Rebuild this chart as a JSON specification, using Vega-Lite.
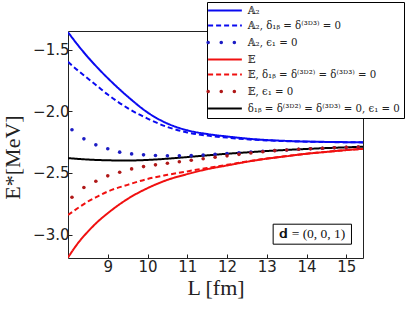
{
  "$schema": "https://vega.github.io/schema/vega-lite/v6.json",
  "width": 295,
  "height": 227,
  "autosize": {"type": "none"},
  "padding": {"left": 68, "top": 31, "right": 53, "bottom": 51},
  "background": "white",
  "config": {
    "view": {"stroke": "#222", "strokeWidth": 1},
    "axis": {"grid": false, "domain": false, "tickColor": "#222", "tickSize": -4, "labelFont": "DejaVu Sans", "labelFontSize": 15, "labelColor": "#222", "titleFont": "Liberation Serif", "titleFontWeight": "normal", "titleFontSize": 22, "titleColor": "#222"}
  },
  "datasets": {
    "pts": [
      {"series": "A2", "L": 8.0, "E": -1.36},
      {"series": "A2", "L": 8.25, "E": -1.465},
      {"series": "A2", "L": 8.5, "E": -1.562},
      {"series": "A2", "L": 8.75, "E": -1.65},
      {"series": "A2", "L": 9.0, "E": -1.732},
      {"series": "A2", "L": 9.5, "E": -1.881},
      {"series": "A2", "L": 10.0, "E": -2.01},
      {"series": "A2", "L": 10.5, "E": -2.1},
      {"series": "A2", "L": 11.0, "E": -2.155},
      {"series": "A2", "L": 11.5, "E": -2.185},
      {"series": "A2", "L": 12.0, "E": -2.205},
      {"series": "A2", "L": 12.5, "E": -2.222},
      {"series": "A2", "L": 13.0, "E": -2.234},
      {"series": "A2", "L": 13.5, "E": -2.241},
      {"series": "A2", "L": 14.0, "E": -2.246},
      {"series": "A2", "L": 14.5, "E": -2.249},
      {"series": "A2", "L": 15.0, "E": -2.251},
      {"series": "A2", "L": 15.42, "E": -2.252},
      {"series": "A2_d", "L": 8.0, "E": -1.6},
      {"series": "A2_d", "L": 8.25, "E": -1.67},
      {"series": "A2_d", "L": 8.5, "E": -1.735},
      {"series": "A2_d", "L": 8.75, "E": -1.8},
      {"series": "A2_d", "L": 9.0, "E": -1.865},
      {"series": "A2_d", "L": 9.5, "E": -1.975},
      {"series": "A2_d", "L": 10.0, "E": -2.06},
      {"series": "A2_d", "L": 10.5, "E": -2.128},
      {"series": "A2_d", "L": 11.0, "E": -2.172},
      {"series": "A2_d", "L": 11.5, "E": -2.198},
      {"series": "A2_d", "L": 12.0, "E": -2.214},
      {"series": "A2_d", "L": 12.5, "E": -2.228},
      {"series": "A2_d", "L": 13.0, "E": -2.237},
      {"series": "A2_d", "L": 13.5, "E": -2.243},
      {"series": "A2_d", "L": 14.0, "E": -2.247},
      {"series": "A2_d", "L": 14.5, "E": -2.25},
      {"series": "A2_d", "L": 15.0, "E": -2.252},
      {"series": "A2_d", "L": 15.42, "E": -2.253},
      {"series": "E", "L": 8.0, "E": -3.186},
      {"series": "E", "L": 8.25, "E": -3.07},
      {"series": "E", "L": 8.5, "E": -2.976},
      {"series": "E", "L": 8.75, "E": -2.895},
      {"series": "E", "L": 9.0, "E": -2.827},
      {"series": "E", "L": 9.5, "E": -2.711},
      {"series": "E", "L": 10.0, "E": -2.624},
      {"series": "E", "L": 10.5, "E": -2.557},
      {"series": "E", "L": 11.0, "E": -2.51},
      {"series": "E", "L": 11.5, "E": -2.47},
      {"series": "E", "L": 12.0, "E": -2.44},
      {"series": "E", "L": 12.5, "E": -2.41},
      {"series": "E", "L": 13.0, "E": -2.385},
      {"series": "E", "L": 13.5, "E": -2.365},
      {"series": "E", "L": 14.0, "E": -2.345},
      {"series": "E", "L": 14.5, "E": -2.33},
      {"series": "E", "L": 15.0, "E": -2.315},
      {"series": "E", "L": 15.42, "E": -2.305},
      {"series": "E_d", "L": 8.0, "E": -2.841},
      {"series": "E_d", "L": 8.25, "E": -2.785},
      {"series": "E_d", "L": 8.5, "E": -2.732},
      {"series": "E_d", "L": 8.75, "E": -2.69},
      {"series": "E_d", "L": 9.0, "E": -2.651},
      {"series": "E_d", "L": 9.5, "E": -2.597},
      {"series": "E_d", "L": 10.0, "E": -2.549},
      {"series": "E_d", "L": 10.5, "E": -2.516},
      {"series": "E_d", "L": 11.0, "E": -2.488},
      {"series": "E_d", "L": 11.5, "E": -2.46},
      {"series": "E_d", "L": 12.0, "E": -2.435},
      {"series": "E_d", "L": 12.5, "E": -2.408},
      {"series": "E_d", "L": 13.0, "E": -2.384},
      {"series": "E_d", "L": 13.5, "E": -2.364},
      {"series": "E_d", "L": 14.0, "E": -2.345},
      {"series": "E_d", "L": 14.5, "E": -2.33},
      {"series": "E_d", "L": 15.0, "E": -2.315},
      {"series": "E_d", "L": 15.42, "E": -2.305},
      {"series": "all", "L": 8.0, "E": -2.38},
      {"series": "all", "L": 8.5, "E": -2.392},
      {"series": "all", "L": 9.0, "E": -2.398},
      {"series": "all", "L": 9.5, "E": -2.4},
      {"series": "all", "L": 10.0, "E": -2.395},
      {"series": "all", "L": 10.5, "E": -2.385},
      {"series": "all", "L": 11.0, "E": -2.372},
      {"series": "all", "L": 11.5, "E": -2.358},
      {"series": "all", "L": 12.0, "E": -2.345},
      {"series": "all", "L": 12.5, "E": -2.334},
      {"series": "all", "L": 13.0, "E": -2.323},
      {"series": "all", "L": 13.5, "E": -2.314},
      {"series": "all", "L": 14.0, "E": -2.306},
      {"series": "all", "L": 14.5, "E": -2.299},
      {"series": "all", "L": 15.0, "E": -2.293},
      {"series": "all", "L": 15.42, "E": -2.288}
    ],
    "dots": [
      {"series": "A2_e", "L": 8.1, "E": -2.151},
      {"series": "A2_e", "L": 8.4, "E": -2.224},
      {"series": "A2_e", "L": 8.7, "E": -2.273},
      {"series": "A2_e", "L": 9.0, "E": -2.305},
      {"series": "A2_e", "L": 9.3, "E": -2.332},
      {"series": "A2_e", "L": 9.6, "E": -2.346},
      {"series": "A2_e", "L": 9.9, "E": -2.354},
      {"series": "A2_e", "L": 10.2, "E": -2.359},
      {"series": "A2_e", "L": 10.5, "E": -2.362},
      {"series": "A2_e", "L": 10.8, "E": -2.362},
      {"series": "A2_e", "L": 11.1, "E": -2.36},
      {"series": "A2_e", "L": 11.4, "E": -2.356},
      {"series": "A2_e", "L": 11.7, "E": -2.35},
      {"series": "A2_e", "L": 12.0, "E": -2.343},
      {"series": "A2_e", "L": 12.3, "E": -2.337},
      {"series": "A2_e", "L": 12.6, "E": -2.331},
      {"series": "A2_e", "L": 12.9, "E": -2.325},
      {"series": "A2_e", "L": 13.2, "E": -2.319},
      {"series": "A2_e", "L": 13.5, "E": -2.314},
      {"series": "A2_e", "L": 13.8, "E": -2.309},
      {"series": "A2_e", "L": 14.1, "E": -2.305},
      {"series": "A2_e", "L": 14.4, "E": -2.3},
      {"series": "A2_e", "L": 14.7, "E": -2.296},
      {"series": "A2_e", "L": 15.0, "E": -2.293},
      {"series": "A2_e", "L": 15.3, "E": -2.29},
      {"series": "E_e", "L": 8.1, "E": -2.697},
      {"series": "E_e", "L": 8.4, "E": -2.619},
      {"series": "E_e", "L": 8.7, "E": -2.568},
      {"series": "E_e", "L": 9.0, "E": -2.524},
      {"series": "E_e", "L": 9.3, "E": -2.495},
      {"series": "E_e", "L": 9.6, "E": -2.468},
      {"series": "E_e", "L": 9.9, "E": -2.449},
      {"series": "E_e", "L": 10.2, "E": -2.435},
      {"series": "E_e", "L": 10.5, "E": -2.422},
      {"series": "E_e", "L": 10.8, "E": -2.41},
      {"series": "E_e", "L": 11.1, "E": -2.398},
      {"series": "E_e", "L": 11.4, "E": -2.385},
      {"series": "E_e", "L": 11.7, "E": -2.373},
      {"series": "E_e", "L": 12.0, "E": -2.362},
      {"series": "E_e", "L": 12.3, "E": -2.35},
      {"series": "E_e", "L": 12.6, "E": -2.339},
      {"series": "E_e", "L": 12.9, "E": -2.329},
      {"series": "E_e", "L": 13.2, "E": -2.32},
      {"series": "E_e", "L": 13.5, "E": -2.314},
      {"series": "E_e", "L": 13.8, "E": -2.309},
      {"series": "E_e", "L": 14.1, "E": -2.305},
      {"series": "E_e", "L": 14.4, "E": -2.3},
      {"series": "E_e", "L": 14.7, "E": -2.296},
      {"series": "E_e", "L": 15.0, "E": -2.293},
      {"series": "E_e", "L": 15.3, "E": -2.29}
    ]
  },
  "layer": [
    {
      "data": {"name": "pts"},
      "mark": {"type": "line", "strokeWidth": 2, "interpolate": "monotone", "clip": true},
      "encoding": {
        "x": {"field": "L", "type": "quantitative", "scale": {"domain": [8, 15.42], "nice": false, "zero": false},
          "axis": {"values": [9, 10, 11, 12, 13, 14, 15], "title": "L  [fm]", "labelPadding": 5, "titleY": 29, "titleBaseline": "middle"}},
        "y": {"field": "E", "type": "quantitative", "scale": {"domain": [-3.19, -1.35], "nice": false, "zero": false},
          "axis": {"values": [-3.0, -2.5, -2.0, -1.5], "format": ".1f", "title": "E*[MeV]", "labelPadding": 3, "titleX": -56, "titleY": 126, "titleAngle": -90, "titleAlign": "center", "titleBaseline": "middle"}},
        "color": {"field": "series", "type": "nominal",
          "scale": {"domain": ["A2", "A2_d", "A2_e", "E", "E_d", "E_e", "all"], "range": ["#0a0af0", "#0a0af0", "#1c1cc4", "#f01010", "#f01010", "#b01818", "#000000"]},
          "legend": {
            "orient": "none", "legendX": 139, "legendY": -29, "title": null,
            "symbolType": "M-1,0H3.5", "symbolSize": 225, "symbolStrokeWidth": 2,
            "rowPadding": 4, "padding": 3.5, "labelOffset": 27,
            "labelFont": "DejaVu Serif", "labelFontSize": 10.2, "labelColor": "#222", "labelLimit": 300,
            "strokeColor": "#000", "fillColor": "white",
            "labelExpr": "datum.value == 'A2' ? '𝔸₂' : datum.value == 'A2_d' ? '𝔸₂,  δ₁ᵦ = δ⁽³ᴰ³⁾ = 0' : datum.value == 'A2_e' ? '𝔸₂,  ϵ₁ = 0' : datum.value == 'E' ? '𝔼' : datum.value == 'E_d' ? '𝔼,  δ₁ᵦ = δ⁽³ᴰ²⁾ = δ⁽³ᴰ³⁾ = 0' : datum.value == 'E_e' ? '𝔼,  ϵ₁ = 0' : 'δ₁ᵦ = δ⁽³ᴰ²⁾ = δ⁽³ᴰ³⁾ = 0, ϵ₁ = 0'",
            "encode": {"symbols": {"update": {
              "strokeCap": {"signal": "datum.value == 'A2_e' || datum.value == 'E_e' ? 'round' : 'butt'"},
              "strokeWidth": {"signal": "datum.value == 'A2_e' || datum.value == 'E_e' ? 3.5 : 2"}
            }}}
          }},
        "strokeDash": {"field": "series", "type": "nominal",
          "scale": {"domain": ["A2", "A2_d", "A2_e", "E", "E_d", "E_e", "all"], "range": [[1, 0], [5, 3], [0.1, 13], [1, 0], [5, 3], [0.1, 13], [1, 0]]}}
      }
    },
    {
      "data": {"name": "dots"},
      "mark": {"type": "circle", "size": 13, "opacity": 1},
      "encoding": {
        "x": {"field": "L", "type": "quantitative"},
        "y": {"field": "E", "type": "quantitative"},
        "color": {"field": "series", "type": "nominal", "legend": null}
      }
    },
    {
      "data": {"values": [{}]},
      "mark": {"type": "rect", "fill": "white", "stroke": "#000", "strokeWidth": 1},
      "encoding": {
        "x": {"datum": 13.16, "type": "quantitative"},
        "x2": {"datum": 15.13},
        "y": {"datum": -2.916, "type": "quantitative"},
        "y2": {"datum": -3.078}
      }
    },
    {
      "data": {"values": [{}]},
      "mark": {"type": "text", "font": "Liberation Serif", "fontSize": 13.5, "color": "#111", "align": "center", "baseline": "middle"},
      "encoding": {
        "x": {"datum": 14.145, "type": "quantitative"},
        "y": {"datum": -2.997, "type": "quantitative"},
        "text": {"value": "𝐝 = (0, 0, 1)"}
      }
    }
  ]
}
